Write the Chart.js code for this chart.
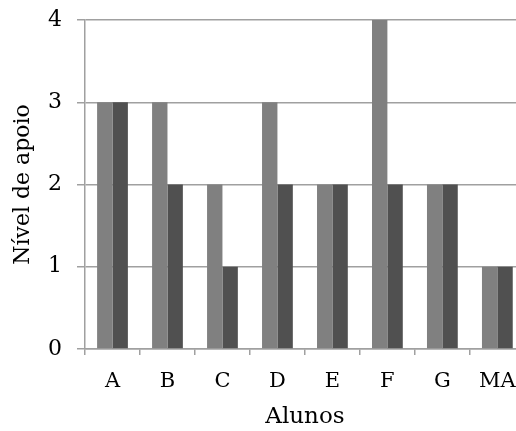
<!DOCTYPE html>
<html>
<head>
<meta charset="utf-8">
<script src="https://cdn.jsdelivr.net/npm/chart.js@4"></script>
<style>
    html, body { margin: 0; padding: 0; overflow: hidden; background: #fff; }
    #wrap { width: 530px; height: 431px; position: relative; }
</style>
</head>
<body>
<div id="wrap"><canvas id="apoioChart"></canvas></div>
<script>
const alunos = ['A', 'B', 'C', 'D', 'E', 'F', 'G', 'MA'];
const serieClara = [3, 3, 2, 3, 2, 4, 2, 1];
const serieEscura = [3, 2, 1, 2, 2, 2, 2, 1];
const yTicks = [0, 1, 2, 3, 4];

const fonte = "'DejaVu Serif', 'Liberation Serif', serif";

const ctx = document.getElementById('apoioChart').getContext('2d');
const apoioChart = new Chart(ctx, {
    type: 'bar',
    data: {
        labels: alunos,
        datasets: [
            {
                label: 'Série 1',
                data: serieClara,
                backgroundColor: '#808080',
                borderWidth: 0
            },
            {
                label: 'Série 2',
                data: serieEscura,
                backgroundColor: '#505050',
                borderWidth: 0
            }
        ]
    },
    options: {
        responsive: true,
        maintainAspectRatio: false,
        animation: false,
        categoryPercentage: 0.56,
        barPercentage: 1,
        layout: {
            padding: { top: 20, right: 5, left: 0, bottom: 0 }
        },
        scales: {
            x: {
                grid: {
                    drawOnChartArea: false,
                    color: '#a0a0a0',
                    lineWidth: 1.5,
                    tickLength: 6
                },
                border: { color: '#a0a0a0', width: 1.5 },
                ticks: {
                    color: '#000',
                    padding: 14,
                    font: { family: fonte, size: 21 }
                },
                title: {
                    display: true,
                    text: 'Alunos',
                    color: '#000',
                    padding: { top: 5, bottom: 0 },
                    font: { family: fonte, size: 23 }
                },
                afterFit: function(scale) {
                    scale.height = 82;
                }
            },
            y: {
                min: 0,
                max: 4,
                afterBuildTicks: function(scale) {
                    scale.ticks = yTicks.map(v => ({ value: v }));
                },
                grid: {
                    color: '#a0a0a0',
                    lineWidth: 1.5,
                    tickLength: 8
                },
                border: { color: '#a0a0a0', width: 1.5 },
                ticks: {
                    color: '#000',
                    padding: 15,
                    font: { family: fonte, size: 22 }
                },
                title: {
                    display: true,
                    text: 'Nível de apoio',
                    color: '#000',
                    padding: { top: 10, bottom: 0 },
                    font: { family: fonte, size: 22 }
                },
                afterFit: function(scale) {
                    scale.width = 85;
                    scale.paddingTop = 0;
                    scale.paddingBottom = 0;
                }
            }
        },
        plugins: {
            legend: { display: false },
            tooltip: { enabled: false }
        }
    }
});
</script>
</body>
</html>
